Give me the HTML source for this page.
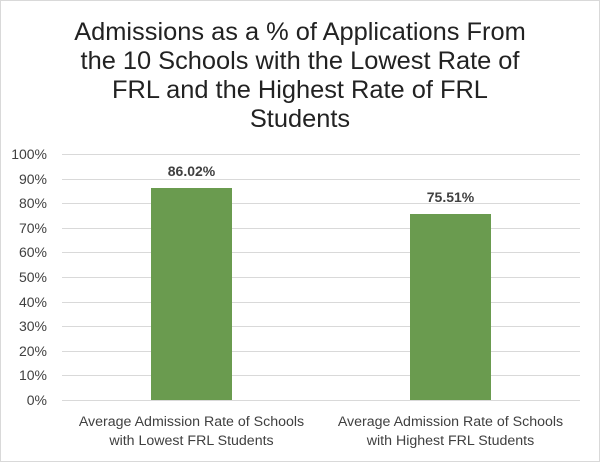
<!DOCTYPE html>
<html><head><style>
body{margin:0;width:600px;height:462px;overflow:hidden;background:#fff;font-family:"Liberation Sans",sans-serif}
</style></head><body>
<svg width="600" height="462" xmlns="http://www.w3.org/2000/svg">
<rect x="0.5" y="0.5" width="599" height="461" fill="#fff" stroke="#d9d9d9"/>
<g font-size="25.4" fill="#222" text-anchor="middle">
<text x="300" y="40">Admissions as a % of Applications From</text>
<text x="300" y="69">the 10 Schools with the Lowest Rate of</text>
<text x="300" y="98">FRL and the Highest Rate of FRL</text>
<text x="300" y="127">Students</text>
</g>
<g stroke="#d9d9d9" stroke-width="1">
<line x1="62" x2="580" y1="154.5" y2="154.5"/><line x1="62" x2="580" y1="179.5" y2="179.5"/>
<line x1="62" x2="580" y1="203.5" y2="203.5"/><line x1="62" x2="580" y1="228.5" y2="228.5"/>
<line x1="62" x2="580" y1="252.5" y2="252.5"/><line x1="62" x2="580" y1="277.5" y2="277.5"/>
<line x1="62" x2="580" y1="302.5" y2="302.5"/><line x1="62" x2="580" y1="326.5" y2="326.5"/>
<line x1="62" x2="580" y1="351.5" y2="351.5"/><line x1="62" x2="580" y1="375.5" y2="375.5"/>
<line x1="62" x2="580" y1="400.5" y2="400.5"/>
</g>
<g font-size="14" fill="#404040" text-anchor="end">
<text x="47" y="159">100%</text><text x="47" y="184">90%</text><text x="47" y="208">80%</text>
<text x="47" y="233">70%</text><text x="47" y="257">60%</text><text x="47" y="282">50%</text>
<text x="47" y="307">40%</text><text x="47" y="331">30%</text><text x="47" y="356">20%</text>
<text x="47" y="380">10%</text><text x="47" y="405">0%</text>
</g>
<rect x="151" y="188" width="81" height="212" fill="#6a9b4f"/>
<rect x="410" y="214" width="81" height="186" fill="#6a9b4f"/>
<g font-size="14" font-weight="bold" fill="#404040" text-anchor="middle">
<text x="191.5" y="176">86.02%</text><text x="450.5" y="202">75.51%</text>
</g>
<g font-size="14.2" fill="#404040" text-anchor="middle">
<text x="191.5" y="426">Average Admission Rate of Schools</text>
<text x="191.5" y="445">with Lowest FRL Students</text>
<text x="450.5" y="426">Average Admission Rate of Schools</text>
<text x="450.5" y="445">with Highest FRL Students</text>
</g>
</svg>
</body></html>
